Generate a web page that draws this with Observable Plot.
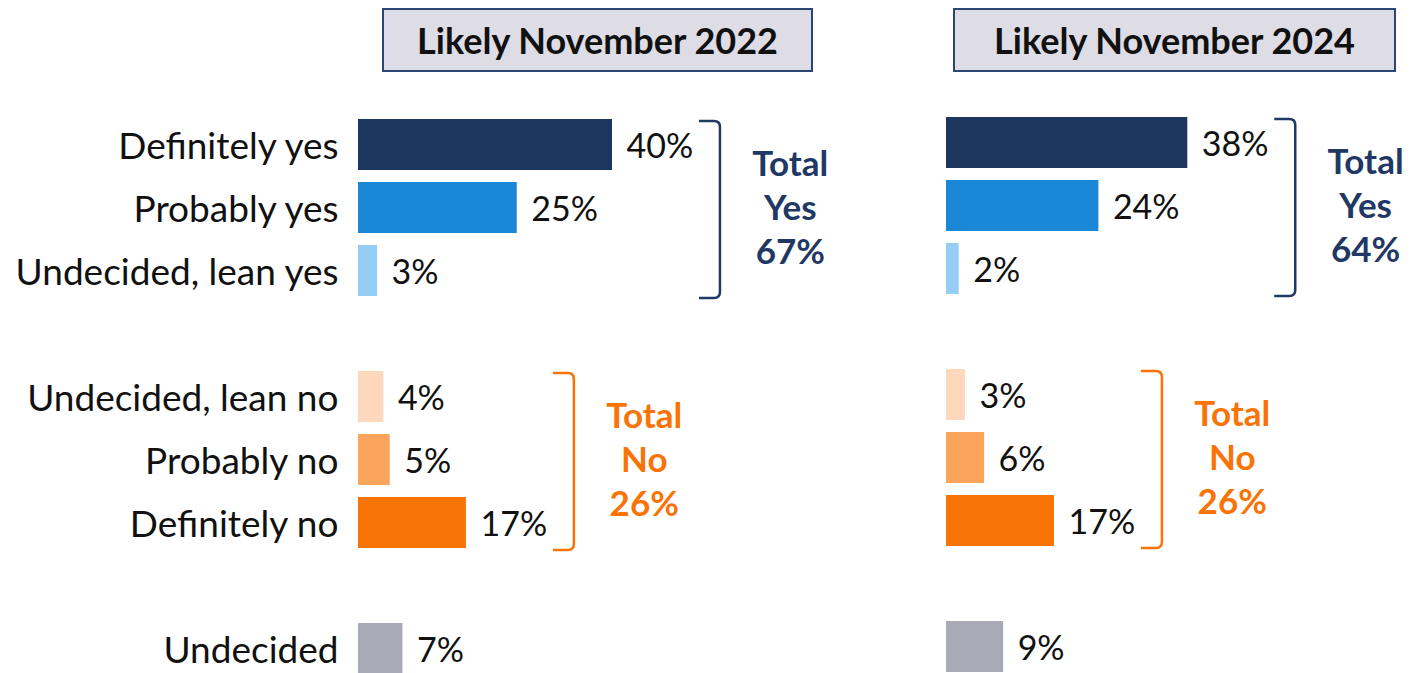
<!DOCTYPE html>
<html><head><meta charset="utf-8">
<script src="https://cdn.jsdelivr.net/npm/d3@7"></script>
<script src="https://cdn.jsdelivr.net/npm/@observablehq/plot@0.6"></script>
<style>
html,body{margin:0;padding:0;background:#fff;}
#wrap{position:relative;width:1418px;height:673px;overflow:hidden;font-family:Lato,sans-serif;}
#wrap svg{position:absolute;left:0;top:0;}
.hdr{position:absolute;top:8px;height:64px;box-sizing:border-box;border:2px solid #2c4674;background:#dedde6;font-weight:700;font-size:36px;display:flex;align-items:center;justify-content:center;color:#111;}
</style></head><body><div id="wrap"></div>
<script>
const categories = ["Definitely yes","Probably yes","Undecided, lean yes","Undecided, lean no","Probably no","Definitely no","Undecided"];
const categoryGroup = ["yes","yes","yes","no","no","no","undecided"];
const colors = ["#1d3660","#1a88d6","#95cdf5","#fdd8bc","#fba45c","#f97406","#a9a9b8"];
const panels = ["Likely November 2022","Likely November 2024"];
const values2022 = [40,25,3,4,5,17,7];
const values2024 = [38,24,2,3,6,17,9];
const totalYes = [67,64];
const totalNo = [26,26];

const navy = "#1f3864", orange = "#f97306";
const wrap = document.getElementById("wrap");
const bracketOffset = 17, labelOffset = 11;

function panel(i, values, left, top, showLabels, hdrLeft, hdrWidth) {
  const data = categories.map((c, j) => ({category: c, group: categoryGroup[j], value: values[j]}));
  const domain = [...categories.slice(0, 3), " ", ...categories.slice(3, 6), "  ", categories[6]];
  const groupsInfo = [
    {group: "yes", cats: categories.slice(0, 3), total: totalYes[i], color: navy, label: "Yes"},
    {group: "no", cats: categories.slice(3, 6), total: totalNo[i], color: orange, label: "No"}
  ].map(g => ({...g, max: d3.max(data.filter(d => d.group === g.group), d => d.value)}));

  const bracket = (index, scales) => {
    const g = d3.create("svg:g");
    const bw = scales.y.bandwidth ? scales.y.bandwidth() : 51;
    for (const b of groupsInfo) {
      const x = scales.x(b.max + bracketOffset);
      const x0 = x - 21;
      const y0 = scales.y(b.cats[0]) + 2;
      const y1 = scales.y(b.cats[2]) + bw + 2;
      const r = 6;
      g.append("path")
        .attr("d", `M${x0},${y0}H${x - r}Q${x},${y0} ${x},${y0 + r}V${y1 - r}Q${x},${y1} ${x - r},${y1}H${x0}`)
        .attr("fill", "none").attr("stroke", b.color).attr("stroke-width", 2.5);
    }
    return g.node();
  };

  const totalText = (grp, fill) => Plot.text(groupsInfo.filter(d => d.group === grp), {
    x: d => d.max + bracketOffset + labelOffset, y: d => d.cats[1],
    text: d => `Total\n${d.label}\n${d.total}%`, fill, fontWeight: 700, fontSize: 35,
    lineHeight: 1.25, textAnchor: "middle", dy: -2
  });

  const marks = [
    Plot.barX(data, {x: "value", y: "category", fill: "category"}),
    Plot.text(data, {x: "value", y: "category", text: d => d.value + "%", dx: 14, dy: 2, textAnchor: "start", fontSize: 34, fill: "#111"}),
    totalText("yes", navy),
    totalText("no", orange),
    bracket
  ];
  if (showLabels) marks.push(Plot.text(data, {x: 0, y: "category", text: "category", dx: -20, dy: 2, textAnchor: "end", fontSize: 37, fill: "#111"}));

  const chart = Plot.plot({
    width: 1418, height: 673,
    marginTop: 0, marginBottom: 0, marginLeft: 0, marginRight: 0,
    style: {fontFamily: "Lato, sans-serif", background: "transparent", overflow: "visible"},
    x: {domain: [0, 80], range: [left, left + 80 * 6.35], axis: null},
    y: {domain, range: [top, top + 567], paddingInner: 0.19, paddingOuter: 0.095, axis: null},
    color: {domain: categories, range: colors},
    marks
  });
  wrap.appendChild(chart);
  const h = document.createElement("div");
  h.className = "hdr";
  h.style.left = hdrLeft + "px";
  h.style.width = hdrWidth + "px";
  h.textContent = panels[i];
  wrap.appendChild(h);
}

panel(0, values2022, 358, 113.5, true, 382, 431);
panel(1, values2024, 946, 111.5, false, 953, 443);
</script></body></html>
